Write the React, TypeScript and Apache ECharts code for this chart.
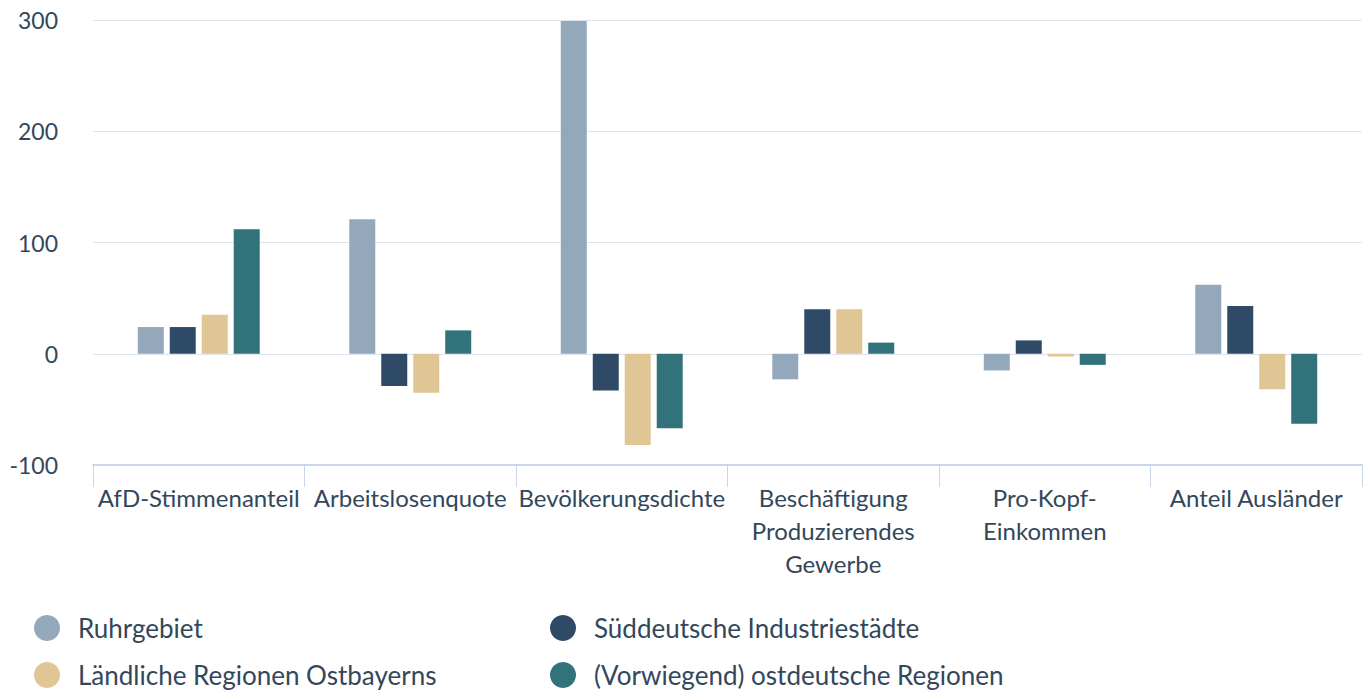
import React, { useEffect, useRef } from "react";
import * as echarts from "echarts";

const categories = [
  "AfD-Stimmenanteil",
  "Arbeitslosenquote",
  "Bevölkerungsdichte",
  "Beschäftigung\nProduzierendes\nGewerbe",
  "Pro-Kopf-\nEinkommen",
  "Anteil Ausländer",
];

const seriesNames = [
  "Ruhrgebiet",
  "Süddeutsche Industriestädte",
  "Ländliche Regionen Ostbayerns",
  "(Vorwiegend) ostdeutsche Regionen",
];

const ruhrgebiet = [24, 121, 299, -23, -15, 62];
const sueddeutsche = [24, -29, -33, 40, 12, 43];
const laendliche = [35, -35, -82, 40, -2.5, -32];
const ostdeutsche = [112, 21, -67, 10, -10, -63];

const colors = ["#94a8bc", "#2e4a66", "#e0c595", "#32727a"];

const yTicks = { min: -100, max: 300, interval: 100 };

const FONT = "Lato, 'Noto Sans', sans-serif";
const TEXT = "#33475b";

export default function App() {
  const ref = useRef<HTMLDivElement>(null);
  useEffect(() => {
    if (!ref.current) return;
    const chart = echarts.init(ref.current, undefined, { renderer: "svg" });
    const values = [ruhrgebiet, sueddeutsche, laendliche, ostdeutsche];
    const legendBase = {
      orient: "vertical",
      top: 615,
      padding: 0,
      icon: "circle",
      itemWidth: 26,
      itemHeight: 26,
      itemGap: 21,
      textStyle: { fontFamily: FONT, fontSize: 26, lineHeight: 26, color: TEXT, padding: [0, 0, 0, 13] },
    };
    chart.setOption({
      animation: false,
      textStyle: { fontFamily: FONT },
      grid: { left: 93, right: 9, top: 20, bottom: 228, containLabel: false },
      legend: [
        { ...legendBase, data: [seriesNames[0], seriesNames[2]], left: 34 },
        { ...legendBase, data: [seriesNames[1], seriesNames[3]], left: 550 },
      ],
      xAxis: {
        type: "category",
        data: categories,
        boundaryGap: true,
        axisLine: { onZero: false, lineStyle: { color: "#ccd6eb", width: 2 } },
        axisTick: { show: true, length: 22, lineStyle: { color: "#ccd6eb", width: 1 } },
        axisLabel: {
          interval: 0,
          margin: 16,
          fontSize: 24,
          lineHeight: 33,
          color: TEXT,
          fontFamily: FONT,
        },
      },
      yAxis: {
        type: "value",
        min: yTicks.min,
        max: yTicks.max,
        interval: yTicks.interval,
        axisLine: { show: false },
        axisTick: { show: false },
        splitLine: { lineStyle: { color: "#dfe3ee", width: 1 } },
        axisLabel: { margin: 35, fontSize: 23, color: TEXT, fontFamily: FONT },
      },
      series: seriesNames.map((name, i) => ({
        name,
        type: "bar",
        data: values[i],
        barWidth: 26,
        barGap: "23%",
        itemStyle: { color: colors[i] },
      })),
    });
    return () => chart.dispose();
  }, []);
  return (
    <div
      ref={ref}
      style={{ position: "absolute", left: 0, top: 0, width: 1371, height: 693, background: "#fff" }}
    />
  );
}
